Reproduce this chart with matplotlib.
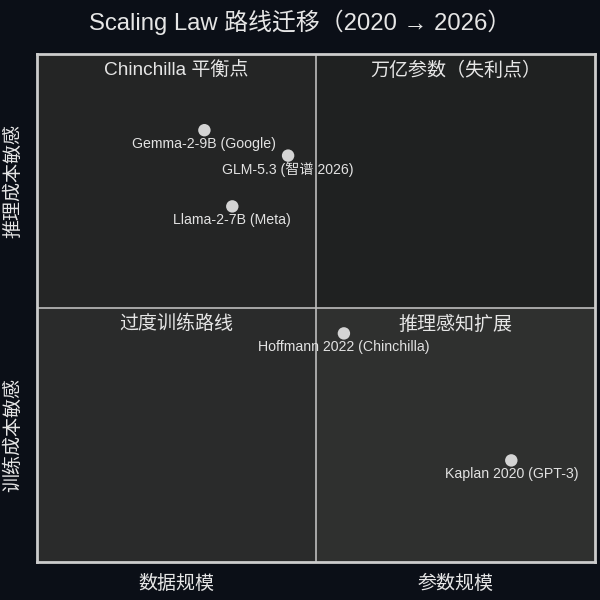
import matplotlib
matplotlib.use("Agg")
import matplotlib.pyplot as plt
from matplotlib.patches import Rectangle

plt.rcParams['font.family'] = ['Liberation Sans', 'Noto Sans CJK JP', 'DejaVu Sans']

title = "Scaling Law 路线迁移（2020 → 2026）"
model_names = ["Gemma-2-9B (Google)", "GLM-5.3 (智谱 2026)", "Llama-2-7B (Meta)",
               "Hoffmann 2022 (Chinchilla)", "Kaplan 2020 (GPT-3)"]
x_vals = [3.0, 4.5, 3.5, 5.5, 8.5]
y_vals = [8.5, 8.0, 7.0, 4.5, 2.0]
quadrant_labels = ["Chinchilla 平衡点", "万亿参数（失利点）", "过度训练路线", "推理感知扩展"]
x_tick_labels = ["数据规模", "参数规模"]
y_tick_labels = ["训练成本敏感", "推理成本敏感"]

bg = '#0b0f17'
fig = plt.figure(figsize=(6, 6), dpi=100, facecolor=bg)
ax = fig.add_axes([37/600, 38/600, 558/600, 508/600])
ax.set_xlim(0, 10)
ax.set_ylim(0, 10)
ax.set_facecolor('#242525')

quad_colors = ['#242525', '#1f2121', '#2a2b2b', '#2f302f']
quad_origins = [(0, 5), (5, 5), (0, 0), (5, 0)]
for (qx, qy), c in zip(quad_origins, quad_colors):
    ax.add_patch(Rectangle((qx, qy), 5, 5, facecolor=c, edgecolor='none', zorder=0))

ax.axvline(5, color='#bdbdbd', lw=1.2, zorder=1)
ax.axhline(5, color='#bdbdbd', lw=1.2, zorder=1)

label_pos = [(2.5, 9.66), (7.5, 9.66), (2.5, 4.68), (7.5, 4.68)]
for (lx, ly), t in zip(label_pos, quadrant_labels):
    ax.text(lx, ly, t, ha='center', va='center', fontsize=13.7, color='#e6e6e6', zorder=3)

ax.scatter(x_vals, y_vals, s=80, color='#d4d4d4', edgecolors='none', zorder=4)
for xv, yv, name in zip(x_vals, y_vals, model_names):
    ax.annotate(name, (xv, yv), xytext=(0, -10), textcoords='offset points',
                ha='center', va='center', fontsize=10.2, color='#e2e2e2', zorder=5)

ax.set_xticks([2.5, 7.5])
ax.set_xticklabels(x_tick_labels)
ax.set_yticks([2.5, 7.5])
ax.set_yticklabels(y_tick_labels, rotation=90, va='center')
ax.tick_params(axis='x', length=0, pad=9.5, labelsize=13.7, colors='#e6e6e6')
ax.tick_params(axis='y', length=0, pad=10.5, labelsize=13.7, colors='#e6e6e6')

for sp in ax.spines.values():
    sp.set_color('#cccccc')
    sp.set_linewidth(2)

fig.suptitle(title, x=0.5, y=1 - 22/600, va='center', fontsize=17.2, color='#e6e6e6')

fig.savefig('out.png', dpi=100, facecolor=bg)
